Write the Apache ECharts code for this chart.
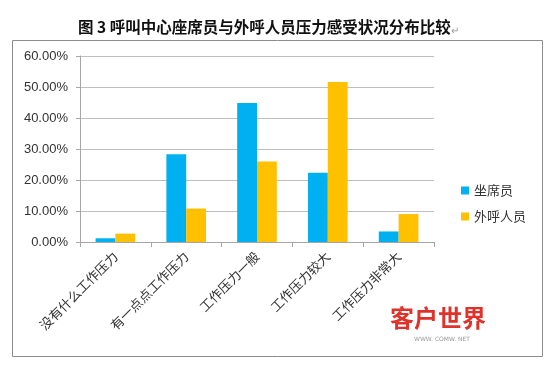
<!DOCTYPE html>
<html>
<head>
<meta charset="utf-8">
<script src="https://cdn.jsdelivr.net/npm/echarts@6/dist/echarts.min.js"></script>
<style>
  html, body { margin: 0; padding: 0; background: #fff; }
  #main { width: 560px; height: 376px; }
</style>
</head>
<body>
<div id="main"></div>
<script>
var categories = ['没有什么工作压力', '有一点点工作压力', '工作压力一般', '工作压力较大', '工作压力非常大'];
var seatValues = [1.2, 28.3, 44.8, 22.3, 3.4];
var outboundValues = [2.7, 10.8, 26.0, 51.6, 9.0];
var seriesNames = ['坐席员', '外呼人员'];

var chartDom = document.getElementById('main');
var myChart = echarts.init(chartDom, null, { renderer: 'canvas' });
var option = {
  backgroundColor: '#fff',
  animation: false,
  title: {
    text: '图 3 呼叫中心座席员与外呼人员压力感受状况分布比较{r|↵}',
    left: 73,
    top: 14,
    textStyle: {
      fontFamily: 'Noto Sans CJK SC',
      fontSize: 15.5,
      fontWeight: 'bold',
      color: '#111',
      rich: {
        r: { fontSize: 10, color: '#999', fontWeight: 'normal', padding: [6, 0, 0, 0] }
      }
    }
  },
  graphic: [
    {
      type: 'rect',
      shape: { x: 12.5, y: 40.5, width: 530, height: 316 },
      style: { fill: 'none', stroke: '#8c8c8c', lineWidth: 1 },
      z: -1
    },
    {
      type: 'text',
      left: 390,
      top: 306,
      style: {
        text: '客户世界',
        fill: '#e0312b',
        font: 'bold 24px "Noto Sans CJK SC"'
      }
    },
    {
      type: 'text',
      left: 414,
      top: 336,
      style: {
        text: 'WWW. COMW. NET',
        fill: '#999',
        font: '6px "DejaVu Sans"'
      }
    }
  ],
  legend: {
    orient: 'vertical',
    left: 456,
    top: 179,
    itemWidth: 8,
    itemHeight: 8,
    itemGap: 13,
    icon: 'rect',
    textStyle: { fontFamily: 'Noto Sans CJK SC', fontSize: 13, color: '#333' },
    data: seriesNames
  },
  grid: {
    left: 80,
    top: 56,
    right: 126,
    bottom: 134
  },
  xAxis: {
    type: 'category',
    data: categories,
    axisLine: { lineStyle: { color: '#a6a6a6' } },
    axisTick: { show: true, length: 5, lineStyle: { color: '#a6a6a6' } },
    axisLabel: {
      rotate: 45,
      interval: 0,
      margin: 12,
      fontFamily: 'Noto Sans CJK SC',
      fontSize: 13,
      color: '#333'
    }
  },
  yAxis: {
    type: 'value',
    min: 0,
    max: 60,
    interval: 10,
    axisLine: { show: true, lineStyle: { color: '#a6a6a6' } },
    axisTick: { show: true, length: 4, lineStyle: { color: '#a6a6a6' } },
    splitLine: { lineStyle: { color: '#bfbfbf' } },
    axisLabel: {
      margin: 12,
      fontFamily: 'Liberation Sans',
      fontSize: 13,
      color: '#333',
      formatter: function (v) { return v.toFixed(2) + '%'; }
    }
  },
  series: [
    {
      name: seriesNames[0],
      type: 'bar',
      data: seatValues,
      itemStyle: { color: '#00b0f0' },
      barGap: '0%',
      barCategoryGap: '44%'
    },
    {
      name: seriesNames[1],
      type: 'bar',
      data: outboundValues,
      itemStyle: { color: '#ffc000' }
    }
  ]
};
myChart.setOption(option);
</script>
</body>
</html>
